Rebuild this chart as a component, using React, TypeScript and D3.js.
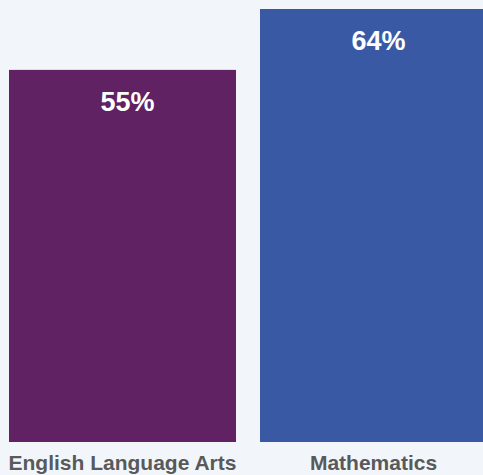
import React from "react";
import * as d3 from "d3";

const categories = ["English Language Arts", "Mathematics"];
const values = [55, 64];
const colors = ["#602262", "#3a59a5"];

const W = 483;
const H = 475;

export default function App() {
  const x = d3.scaleBand<string>().domain(categories).range([9, 487]).paddingInner(24 / 251).paddingOuter(0);
  const y = d3.scaleLinear().domain([0, 64]).range([442, 9]);
  const font = "'Liberation Sans', Arial, Helvetica, sans-serif";
  return (
    <svg
      width={W}
      height={H}
      style={{ position: "absolute", left: 0, top: 0, display: "block", background: "#f2f6fa" }}
    >
      <rect x={0} y={0} width={W} height={H} fill="#f2f6fa" />
      {categories.map((c, i) => {
        const bx = x(c)!;
        const bw = x.bandwidth();
        const cx = bx + bw / 2;
        return (
          <g key={c}>
            <rect x={bx} y={y(values[i])} width={bw} height={y(0) - y(values[i])} fill={colors[i]} />
            <text
              x={cx + 5}
              y={y(values[i]) + 41}
              textAnchor="middle"
              fill="#ffffff"
              fontFamily={font}
              fontWeight="bold"
              fontSize={27}
            >
              {values[i]}%
            </text>
            <text
              x={cx}
              y={470}
              textAnchor="middle"
              fill="#58595b"
              fontFamily={font}
              fontWeight="bold"
              fontSize={21}
            >
              {c}
            </text>
          </g>
        );
      })}
    </svg>
  );
}
